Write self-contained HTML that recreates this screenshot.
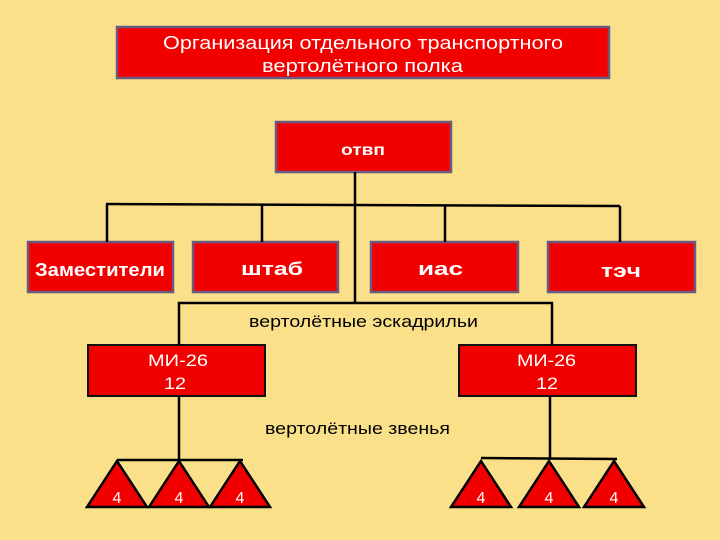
<!DOCTYPE html>
<html><head><meta charset="utf-8"><style>
html,body{margin:0;padding:0;background:#fbe08a;}
svg{display:block;}
text{font-family:"Liberation Sans",sans-serif;}
</style></head><body>
<svg width="720" height="540" viewBox="0 0 720 540" xmlns="http://www.w3.org/2000/svg">
<rect width="720" height="540" fill="#fbe08a"/>
<g fill="#f20000" stroke="#6a5a80" stroke-width="2.5">
<rect x="117" y="27" width="492" height="51"/>
<rect x="276" y="122" width="175" height="50"/>
<rect x="28" y="242" width="145" height="50"/>
<rect x="193" y="242" width="145" height="50"/>
<rect x="371" y="242" width="147" height="50"/>
<rect x="548" y="242" width="147" height="50"/>
</g>
<g fill="#f20000" stroke="#111" stroke-width="2">
<rect x="88" y="345" width="177" height="51"/>
<rect x="459" y="345" width="177" height="51"/>
</g>
<g stroke="#000" stroke-width="2.5" fill="none">
<line x1="355" y1="172" x2="355" y2="303"/>
<line x1="106" y1="204" x2="620" y2="206"/>
<line x1="107" y1="204" x2="107" y2="242"/>
<line x1="262" y1="204" x2="262" y2="242"/>
<line x1="445" y1="205" x2="445" y2="242"/>
<line x1="620" y1="206" x2="620" y2="242"/>
<polyline points="179,345 179,303 552,303 552,345"/>
<line x1="179" y1="396" x2="179" y2="460"/>
<line x1="117" y1="460" x2="243" y2="460"/>
<line x1="550" y1="396" x2="550" y2="459"/>
<line x1="481" y1="458" x2="617" y2="459"/>
</g>
<g fill="#f20000" stroke="#000" stroke-width="2.5" stroke-linejoin="miter">
<polygon points="117,461 87,507 147,507"/>
<polygon points="179,461 149,507 209,507"/>
<polygon points="240,461 210,507 270,507"/>
<polygon points="481,461 451,507 511,507"/>
<polygon points="549,461 519,507 579,507"/>
<polygon points="614,461 584,507 644,507"/>
</g>
<g fill="#fff" font-size="18" lengthAdjust="spacingAndGlyphs">
<text x="163" y="49" textLength="400" lengthAdjust="spacingAndGlyphs">Организация отдельного транспортного</text>
<text x="262" y="72" textLength="201" lengthAdjust="spacingAndGlyphs">вертолётного полка</text>
<text x="341" y="155" font-weight="bold" font-size="16" textLength="44" lengthAdjust="spacingAndGlyphs">отвп</text>
<text x="35" y="276" font-weight="bold" textLength="130" lengthAdjust="spacingAndGlyphs">Заместители</text>
<text x="241" y="275" font-weight="bold" textLength="62" lengthAdjust="spacingAndGlyphs">штаб</text>
<text x="418" y="275" font-weight="bold" textLength="45" lengthAdjust="spacingAndGlyphs">иас</text>
<text x="601" y="277" font-weight="bold" textLength="40" lengthAdjust="spacingAndGlyphs">тэч</text>
<text x="148" y="366" font-size="17" textLength="60" lengthAdjust="spacingAndGlyphs">МИ-26</text>
<text x="164" y="389" font-size="17" textLength="22" lengthAdjust="spacingAndGlyphs">12</text>
<text x="517" y="366" font-size="17" textLength="59" lengthAdjust="spacingAndGlyphs">МИ-26</text>
<text x="536" y="389" font-size="17" textLength="22" lengthAdjust="spacingAndGlyphs">12</text>
</g>
<g fill="#fff" font-size="16" text-anchor="middle">
<text x="117" y="503">4</text>
<text x="179" y="503">4</text>
<text x="240" y="503">4</text>
<text x="481" y="503">4</text>
<text x="549" y="503">4</text>
<text x="614" y="503">4</text>
</g>
<g fill="#000" font-size="17">
<text x="249" y="327" textLength="229" lengthAdjust="spacingAndGlyphs">вертолётные эскадрильи</text>
<text x="265" y="434" textLength="185" lengthAdjust="spacingAndGlyphs">вертолётные звенья</text>
</g>
</svg>
</body></html>
